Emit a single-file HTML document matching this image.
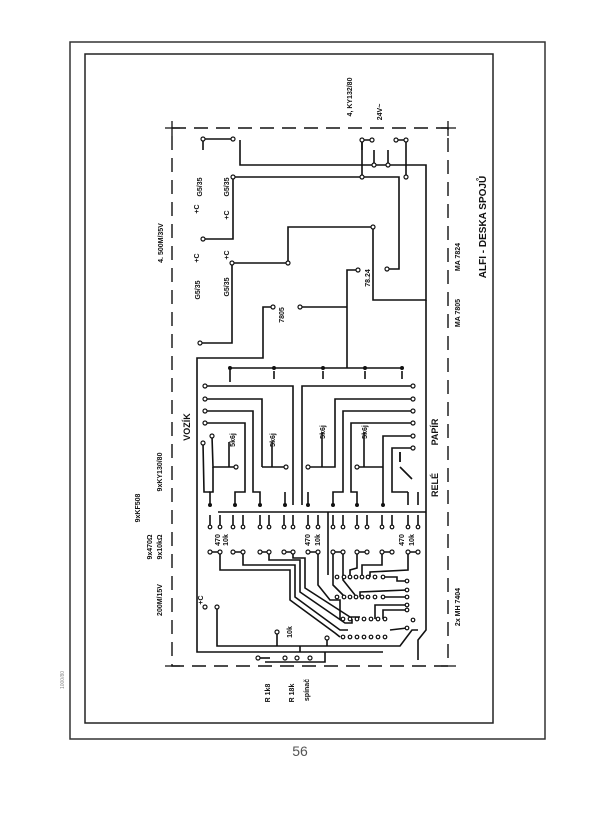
<!DOCTYPE html>
<html><head><meta charset="utf-8"><style>
html,body{margin:0;padding:0;background:#fff;}
svg{display:block;}
text{font-family:"Liberation Sans",sans-serif;font-weight:bold;fill:#111;}
</style></head><body>
<svg width="600" height="817" viewBox="0 0 600 817" xmlns="http://www.w3.org/2000/svg">
<rect width="600" height="817" fill="#fff"/>
<!-- frames -->
<rect x="70" y="42" width="475" height="697" fill="none" stroke="#333" stroke-width="1.5"/>
<rect x="85" y="54" width="408" height="669" fill="none" stroke="#222" stroke-width="1.5"/>
<!-- dashed board outline -->
<rect x="172" y="128" width="276" height="538" fill="none" stroke="#111" stroke-width="1.4" stroke-dasharray="14,8"/>
<path d="M165 128h15M172 121v15M441 128h15M448 121v15M165 666h15M441 666h15" stroke="#111" stroke-width="1.3"/>

<g fill="none" stroke="#111" stroke-width="1.6">
<!-- top power traces -->
<polyline points="203,139 233,139"/>
<polyline points="240,140 240,165 426,165 426,300 373,300 373,227 288,227 288,263 232,263 232,343 200,343"/>
<polyline points="233,177 399,177 399,269 387,269"/>
<polyline points="233,177 233,239 203,239"/>
<polyline points="203,139 203,150"/>
<polyline points="273,307 263,307 263,358 197,358 197,652 383,652"/>
<polyline points="300,307 347,307"/>
<polyline points="358,270 347,270 347,368"/>
<polyline points="230,368 403,368"/>
<path d="M230 368v14M274 371v8M323 371v8M365 371v8M402 371v8"/>
<polyline points="362,140 362,150 M362,140 372,140"/>
<path d="M362 140h10M396 140h10M362 140v25M406 140v25M374 150v15M388 150v15M362 165v12M406 165v12"/>
<!-- right vertical -->
<polyline points="426,300 426,630 418,640 418,660"/>
<!-- left relay traces -->
<polyline points="205,386 293,386 293,505"/>
<polyline points="205,399 262,399 262,467"/>
<polyline points="205,411 253,411 253,492 260,492 260,505"/>
<polyline points="205,423 245,423 245,492 235,492 235,505"/>
<polyline points="212,436 213,467 236,467"/>
<polyline points="229,467 229,442"/>
<polyline points="262,467 286,467"/><polyline points="272,467 272,442"/>
<polyline points="213,467 213,492 210,492 210,505"/>
<polyline points="203,443 204,492 210,492"/>
<polyline points="285,492 285,505"/>
<!-- right relay traces -->
<polyline points="413,386 302,386 302,505"/>
<polyline points="413,399 335,399 335,467 308,467"/>
<polyline points="322,467 322,432"/>
<polyline points="413,411 343,411 343,492 333,492 333,505"/>
<polyline points="413,423 351,423 351,492 357,492 357,505"/>
<polyline points="413,436 383,436 383,505"/>
<polyline points="383,467 357,467"/><polyline points="364,467 364,432"/>
<polyline points="413,448 392,448 392,492 408,492"/>
<polyline points="400,452 400,462 M400,467 412,480"/>
<path d="M400 467l12 12M400 452v10M308 492v13M408 492v13M418 492v13"/>
<!-- bus -->
<polyline points="218,512 426,512"/>
<polyline points="328,512 328,575"/>
<!-- pin pairs -->
<path d="M210 515v12M220 515v12M233 515v12M243 515v12M260 515v12M269 515v12M284 515v12M293 515v12M308 515v12M318 515v12M333 515v12M343 515v12M357 515v12M367 515v12M382 515v12M392 515v12M408 515v12M418 515v12"/>
<path d="M210 552h10M233 552h10M260 552h9M284 552h9M308 552h10M333 552h10M357 552h10M382 552h10M408 552h10"/>
<!-- staircase traces to ICs -->
<polyline points="220,552 220,570 290,570 290,600 335,633 340,637"/>
<polyline points="243,552 243,565 295,565 295,597 340,630 348,630"/>
<polyline points="269,552 269,560 300,560 300,592 345,623 352,623 352,619"/>
<polyline points="293,552 293,558 305,558 305,588 350,617 360,617"/>
<polyline points="318,552 318,585 330,600 340,600 340,619"/>
<polyline points="333,552 333,585 345,597"/>
<polyline points="343,552 343,580 355,595"/>
<polyline points="357,552 357,568 350,570 350,577"/>
<polyline points="382,552 382,565 362,565 362,577"/>
<polyline points="408,552 408,570 370,572 370,577"/>
<polyline points="383,577 397,577 397,581 407,581"/>
<polyline points="383,597 407,597"/>
<polyline points="375,619 375,605 407,605"/>
<polyline points="383,619 383,610 407,610"/>
<polyline points="390,630 407,628"/>
<polyline points="360,597 360,592 407,590"/>
<polyline points="217,607 217,646 400,646 412,630 418,630"/>
<polyline points="300,652 300,646"/><polyline points="327,646 327,638"/><polyline points="277,646 277,632"/>
<polyline points="258,658 270,658 M285,658 310,658"/>
<polyline points="265,662 325,662 325,652 M325,662 400,662 408,648"/>
</g>
<!-- dots -->
<g fill="#fff" stroke="#111" stroke-width="1.2">
<circle cx="203" cy="139" r="2"/><circle cx="233" cy="139" r="2"/><circle cx="233" cy="177" r="2"/>
<circle cx="203" cy="239" r="2"/><circle cx="232" cy="263" r="2"/><circle cx="200" cy="343" r="2"/>
<circle cx="288" cy="263" r="2"/><circle cx="373" cy="227" r="2"/><circle cx="273" cy="307" r="2"/><circle cx="300" cy="307" r="2"/>
<circle cx="358" cy="270" r="2"/><circle cx="387" cy="269" r="2"/>
<circle cx="362" cy="140" r="2"/><circle cx="372" cy="140" r="2"/><circle cx="396" cy="140" r="2"/><circle cx="406" cy="140" r="2"/>
<circle cx="362" cy="177" r="2"/><circle cx="406" cy="177" r="2"/><circle cx="374" cy="165" r="2"/><circle cx="388" cy="165" r="2"/>
<circle cx="205" cy="386" r="2"/><circle cx="205" cy="399" r="2"/><circle cx="205" cy="411" r="2"/><circle cx="205" cy="423" r="2"/><circle cx="212" cy="436" r="2"/><circle cx="203" cy="443" r="2"/>
<circle cx="413" cy="386" r="2"/><circle cx="413" cy="399" r="2"/><circle cx="413" cy="411" r="2"/><circle cx="413" cy="423" r="2"/><circle cx="413" cy="436" r="2"/><circle cx="413" cy="448" r="2"/>
<circle cx="236" cy="467" r="2"/><circle cx="286" cy="467" r="2"/><circle cx="308" cy="467" r="2"/><circle cx="357" cy="467" r="2"/>
<circle cx="210" cy="552" r="2"/><circle cx="220" cy="552" r="2"/><circle cx="233" cy="552" r="2"/><circle cx="243" cy="552" r="2"/><circle cx="260" cy="552" r="2"/><circle cx="269" cy="552" r="2"/><circle cx="284" cy="552" r="2"/><circle cx="293" cy="552" r="2"/><circle cx="308" cy="552" r="2"/><circle cx="318" cy="552" r="2"/><circle cx="333" cy="552" r="2"/><circle cx="343" cy="552" r="2"/><circle cx="357" cy="552" r="2"/><circle cx="367" cy="552" r="2"/><circle cx="382" cy="552" r="2"/><circle cx="392" cy="552" r="2"/><circle cx="408" cy="552" r="2"/><circle cx="418" cy="552" r="2"/>
<circle cx="210" cy="527" r="1.8"/><circle cx="220" cy="527" r="1.8"/><circle cx="233" cy="527" r="1.8"/><circle cx="243" cy="527" r="1.8"/><circle cx="260" cy="527" r="1.8"/><circle cx="269" cy="527" r="1.8"/><circle cx="284" cy="527" r="1.8"/><circle cx="293" cy="527" r="1.8"/><circle cx="308" cy="527" r="1.8"/><circle cx="318" cy="527" r="1.8"/><circle cx="333" cy="527" r="1.8"/><circle cx="343" cy="527" r="1.8"/><circle cx="357" cy="527" r="1.8"/><circle cx="367" cy="527" r="1.8"/><circle cx="382" cy="527" r="1.8"/><circle cx="392" cy="527" r="1.8"/><circle cx="408" cy="527" r="1.8"/><circle cx="418" cy="527" r="1.8"/>
<circle cx="337" cy="577" r="1.8"/><circle cx="344" cy="577" r="1.8"/><circle cx="350" cy="577" r="1.8"/><circle cx="356" cy="577" r="1.8"/><circle cx="362" cy="577" r="1.8"/><circle cx="368" cy="577" r="1.8"/><circle cx="375" cy="577" r="1.8"/><circle cx="383" cy="577" r="1.8"/>
<circle cx="337" cy="597" r="1.8"/><circle cx="344" cy="597" r="1.8"/><circle cx="350" cy="597" r="1.8"/><circle cx="356" cy="597" r="1.8"/><circle cx="362" cy="597" r="1.8"/><circle cx="368" cy="597" r="1.8"/><circle cx="375" cy="597" r="1.8"/><circle cx="383" cy="597" r="1.8"/>
<circle cx="343" cy="619" r="1.8"/><circle cx="350" cy="619" r="1.8"/><circle cx="357" cy="619" r="1.8"/><circle cx="364" cy="619" r="1.8"/><circle cx="371" cy="619" r="1.8"/><circle cx="378" cy="619" r="1.8"/><circle cx="385" cy="619" r="1.8"/>
<circle cx="343" cy="637" r="1.8"/><circle cx="350" cy="637" r="1.8"/><circle cx="357" cy="637" r="1.8"/><circle cx="364" cy="637" r="1.8"/><circle cx="371" cy="637" r="1.8"/><circle cx="378" cy="637" r="1.8"/><circle cx="385" cy="637" r="1.8"/>
<circle cx="407" cy="581" r="1.8"/><circle cx="407" cy="590" r="1.8"/><circle cx="407" cy="597" r="1.8"/><circle cx="407" cy="605" r="1.8"/><circle cx="407" cy="610" r="1.8"/><circle cx="407" cy="628" r="1.8"/><circle cx="413" cy="620" r="1.8"/>
<circle cx="205" cy="607" r="2"/><circle cx="217" cy="607" r="2"/><circle cx="277" cy="632" r="2"/><circle cx="327" cy="638" r="2"/>
<circle cx="258" cy="658" r="2"/><circle cx="285" cy="658" r="2"/><circle cx="297" cy="658" r="2"/><circle cx="310" cy="658" r="2"/>
</g>
<g fill="#111"><circle cx="210" cy="505" r="2"/><circle cx="235" cy="505" r="2"/><circle cx="260" cy="505" r="2"/><circle cx="285" cy="505" r="2"/><circle cx="308" cy="505" r="2"/><circle cx="333" cy="505" r="2"/><circle cx="357" cy="505" r="2"/><circle cx="383" cy="505" r="2"/>
<circle cx="230" cy="368" r="2"/><circle cx="274" cy="368" r="2"/><circle cx="323" cy="368" r="2"/><circle cx="365" cy="368" r="2"/><circle cx="402" cy="368" r="2"/></g>
<!-- labels (rotated) -->
<g font-size="7">
<text transform="translate(352,97) rotate(-90)" text-anchor="middle">4, KY132/80</text>
<text transform="translate(382,112) rotate(-90)" text-anchor="middle">24V~</text>
<text transform="translate(163,243) rotate(-90)" text-anchor="middle">4. 500M/35V</text>
<text transform="translate(202,187) rotate(-90)" text-anchor="middle">G5/35</text>
<text transform="translate(229,187) rotate(-90)" text-anchor="middle">G5/35</text>
<text transform="translate(200,290) rotate(-90)" text-anchor="middle">G5/35</text>
<text transform="translate(229,287) rotate(-90)" text-anchor="middle">G5/35</text>
<text transform="translate(199,209) rotate(-90)" text-anchor="middle">+C</text>
<text transform="translate(229,215) rotate(-90)" text-anchor="middle">+C</text>
<text transform="translate(199,258) rotate(-90)" text-anchor="middle">+C</text>
<text transform="translate(229,255) rotate(-90)" text-anchor="middle">+C</text>
<text transform="translate(284,315) rotate(-90)" text-anchor="middle">7805</text>
<text transform="translate(370,278) rotate(-90)" text-anchor="middle">78.24</text>
<text transform="translate(460,257) rotate(-90)" text-anchor="middle">MA 7824</text>
<text transform="translate(460,313) rotate(-90)" text-anchor="middle">MA 7805</text>
<text transform="translate(162,472) rotate(-90)" text-anchor="middle">9xKY130/80</text>
<text transform="translate(140,508) rotate(-90)" text-anchor="middle">9xKF508</text>
<text transform="translate(152,547) rotate(-90)" text-anchor="middle">9x470Ω</text>
<text transform="translate(162,547) rotate(-90)" text-anchor="middle">9x10kΩ</text>
<text transform="translate(162,600) rotate(-90)" text-anchor="middle">200M/15V</text>
<text transform="translate(460,607) rotate(-90)" text-anchor="middle">2x MH 7404</text>
<text transform="translate(270,693) rotate(-90)" text-anchor="middle">R 1k8</text>
<text transform="translate(294,693) rotate(-90)" text-anchor="middle">R 18k</text>
<text transform="translate(309,690) rotate(-90)" text-anchor="middle">spínač</text>
<text transform="translate(235,440) rotate(-90)" text-anchor="middle">5k6j</text>
<text transform="translate(275,440) rotate(-90)" text-anchor="middle">5k6j</text>
<text transform="translate(325,432) rotate(-90)" text-anchor="middle">5k6j</text>
<text transform="translate(367,432) rotate(-90)" text-anchor="middle">5k6j</text>
<text transform="translate(220,540) rotate(-90)" text-anchor="middle">470</text>
<text transform="translate(228,540) rotate(-90)" text-anchor="middle">10k</text>
<text transform="translate(310,540) rotate(-90)" text-anchor="middle">470</text>
<text transform="translate(320,540) rotate(-90)" text-anchor="middle">10k</text>
<text transform="translate(404,540) rotate(-90)" text-anchor="middle">470</text>
<text transform="translate(414,540) rotate(-90)" text-anchor="middle">10k</text>
<text transform="translate(292,632) rotate(-90)" text-anchor="middle">10k</text>
<text transform="translate(203,600) rotate(-90)" text-anchor="middle">+C</text>
</g>
<g font-size="9">
<text transform="translate(190,427) rotate(-90)" text-anchor="middle">VOZÍK</text>
<text transform="translate(438,432) rotate(-90)" text-anchor="middle">PAPÍR</text>
<text transform="translate(438,485) rotate(-90)" text-anchor="middle">RELÉ</text>
</g>
<text transform="translate(486,227) rotate(-90)" text-anchor="middle" font-size="10">ALFI - DESKA SPOJŮ</text>
<text x="300" y="756" text-anchor="middle" font-size="14" style="font-weight:normal;fill:#555">56</text>
<text transform="translate(64,680) rotate(-90)" text-anchor="middle" font-size="5" style="font-weight:normal;fill:#888">1000/80</text>
</svg>
</body></html>
